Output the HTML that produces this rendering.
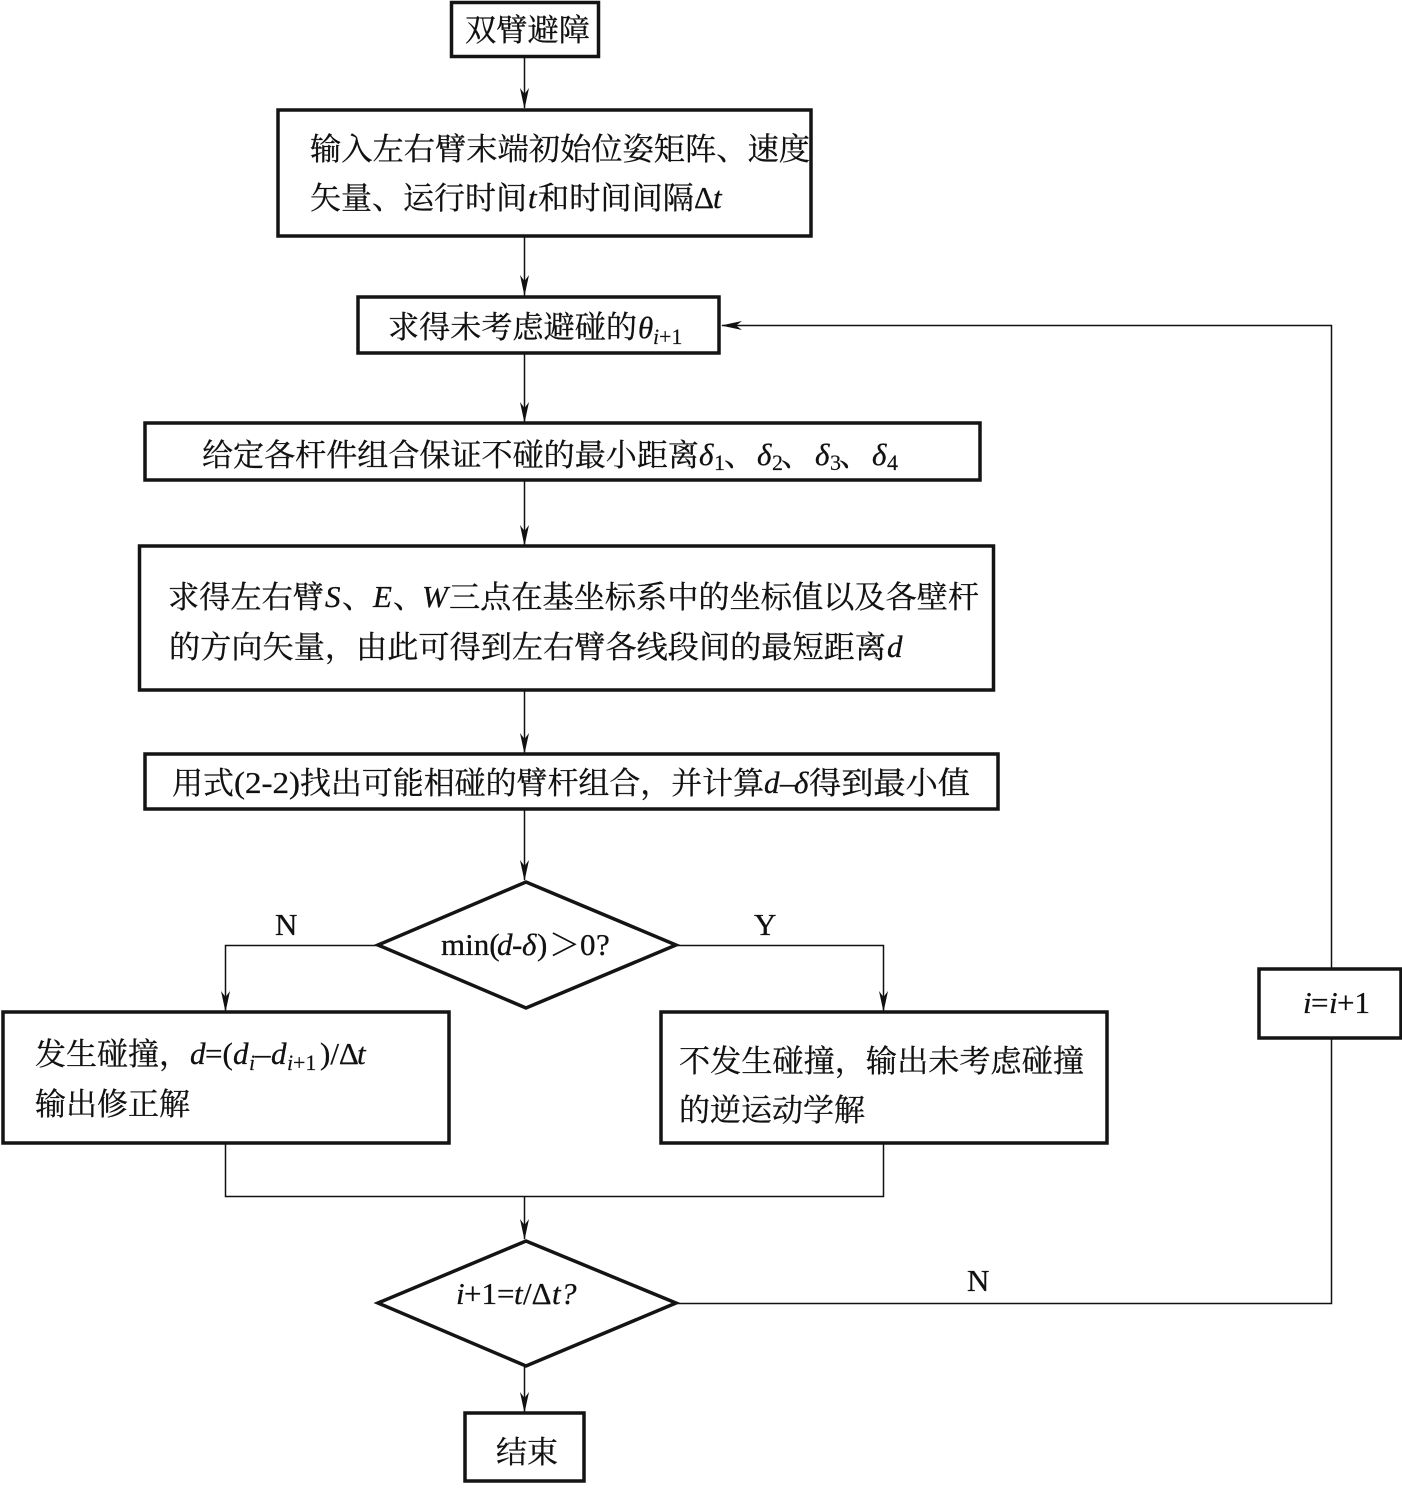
<!DOCTYPE html>
<html lang="zh">
<head>
<meta charset="utf-8">
<style>
html,body{margin:0;padding:0;background:#fff;width:1402px;height:1490px;overflow:hidden}
svg{display:block}
text{font-family:"Liberation Serif","Noto Serif CJK SC",serif;font-size:31px;fill:#111;stroke:#111;stroke-width:.3;white-space:pre}
.i{font-style:italic}
.s{font-size:22px;stroke-width:.15}
.box{fill:#fff;stroke:#141414;stroke-width:3.5}
.ln{fill:none;stroke:#111;stroke-width:1.5}
.ah{fill:#111}
</style>
</head>
<body>
<svg width="1402" height="1490" viewBox="0 0 1402 1490" xmlns="http://www.w3.org/2000/svg">
<defs>
<polygon id="d" class="ah" points="0,0 -4.5,-21 0,-15 4.5,-21"/>
</defs>

<!-- connectors -->
<path class="ln" d="M524.500 57V108M524.500 236V296M524.500 353V422M524.500 480V545M524.500 690V753M524.500 809V880"/>
<path class="ln" d="M378 945.500H225.500V1011M676 945.500H883.500V1011"/>
<path class="ln" d="M225.500 1143V1196.500H883.500V1143M524.500 1196V1239M524.500 1367V1412"/>
<path class="ln" d="M676 1303.500H1331.500V1038M1331.500 969V325.500H722"/>
<use href="#d" x="524.500" y="109"/>
<use href="#d" x="524.500" y="296"/>
<use href="#d" x="524.500" y="423"/>
<use href="#d" x="524.500" y="546"/>
<use href="#d" x="524.500" y="754"/>
<use href="#d" x="524.500" y="881"/>
<use href="#d" x="225.500" y="1012"/>
<use href="#d" x="883.500" y="1012"/>
<use href="#d" x="524.500" y="1240"/>
<use href="#d" x="524.500" y="1413"/>
<polygon class="ah" points="721,325.500 742,321 736,325.500 742,330"/>

<!-- shapes -->
<rect class="box" x="451.500" y="2.500" width="147" height="54"/>
<rect class="box" x="278" y="110" width="533" height="126"/>
<rect class="box" x="358" y="297" width="361" height="56"/>
<rect class="box" x="145" y="423" width="835" height="57"/>
<rect class="box" x="139.500" y="546" width="854" height="144"/>
<rect class="box" x="145" y="754" width="853" height="55"/>
<polygon class="box" points="378,945 526,882 676,945 526,1008"/>
<rect class="box" x="3" y="1012" width="446" height="131"/>
<rect class="box" x="661" y="1012" width="446" height="131"/>
<rect class="box" x="1259" y="969" width="142" height="69"/>
<polygon class="box" points="378,1303 526,1241 676,1303 526,1366"/>
<rect class="box" x="465" y="1413" width="119" height="68"/>

<!-- labels -->
<text x="465" y="41" textLength="125" lengthAdjust="spacingAndGlyphs">双臂避障</text>

<text x="310" y="160" textLength="500" lengthAdjust="spacingAndGlyphs">输入左右臂末端初始位姿矩阵、速度</text>
<text x="310" y="209" textLength="217" lengthAdjust="spacingAndGlyphs">矢量、运行时间</text>
<text class="i" x="528" y="208">t</text>
<text x="538" y="209" textLength="156" lengthAdjust="spacingAndGlyphs">和时间间隔</text>
<text x="694" y="208">Δ</text>
<text class="i" x="713" y="208">t</text>

<text x="388" y="338" textLength="249" lengthAdjust="spacingAndGlyphs">求得未考虑避碰的</text>
<text class="i" x="638" y="338">θ</text>
<text class="i s" x="653" y="344">i</text>
<text class="s" x="659" y="344">+1</text>

<text x="202" y="466" textLength="497" lengthAdjust="spacingAndGlyphs">给定各杆件组合保证不碰的最小距离</text>
<text class="i" x="699" y="465">δ</text>
<text class="s" x="714" y="470">1</text>
<text x="724" y="466" textLength="31" lengthAdjust="spacingAndGlyphs">、</text>
<text class="i" x="757" y="465">δ</text>
<text class="s" x="772" y="470">2</text>
<text x="781" y="466" textLength="31" lengthAdjust="spacingAndGlyphs">、</text>
<text class="i" x="815" y="465">δ</text>
<text class="s" x="830" y="470">3</text>
<text x="839" y="466" textLength="31" lengthAdjust="spacingAndGlyphs">、</text>
<text class="i" x="872" y="465">δ</text>
<text class="s" x="887" y="470">4</text>

<text x="168" y="608" textLength="156" lengthAdjust="spacingAndGlyphs">求得左右臂</text>
<text class="i" x="325" y="607">S</text>
<text x="342" y="608" textLength="31" lengthAdjust="spacingAndGlyphs">、</text>
<text class="i" x="373" y="607">E</text>
<text x="393" y="608" textLength="31" lengthAdjust="spacingAndGlyphs">、</text>
<text class="i" x="422" y="607">W</text>
<text x="449" y="608" textLength="530" lengthAdjust="spacingAndGlyphs">三点在基坐标系中的坐标值以及各壁杆</text>
<text x="169" y="658" textLength="717" lengthAdjust="spacingAndGlyphs">的方向矢量，由此可得到左右臂各线段间的最短距离</text>
<text class="i" x="887" y="657">d</text>

<text x="172" y="794" textLength="62" lengthAdjust="spacingAndGlyphs">用式</text>
<text x="234" y="793" textLength="66" lengthAdjust="spacingAndGlyphs">(2-2)</text>
<text x="300" y="794" textLength="464" lengthAdjust="spacingAndGlyphs">找出可能相碰的臂杆组合，并计算</text>
<text class="i" x="764" y="793">d</text>
<text x="780" y="793">–</text>
<text class="i" x="794" y="793">δ</text>
<text x="809" y="794" textLength="161" lengthAdjust="spacingAndGlyphs">得到最小值</text>

<text x="441" y="955">min(</text>
<text class="i" x="497" y="955">d</text>
<text x="512" y="955">-</text>
<text class="i" x="522" y="955">δ</text>
<text x="537" y="955">)</text>
<text x="549" y="956" textLength="31" lengthAdjust="spacingAndGlyphs">＞</text>
<text x="580" y="955">0</text>
<text x="596" y="955">?</text>

<text x="275" y="935">N</text>
<text x="754" y="935">Y</text>
<text x="967" y="1291">N</text>

<text x="35" y="1065" textLength="155" lengthAdjust="spacingAndGlyphs">发生碰撞，</text>
<text class="i" x="190" y="1064">d</text>
<text x="205" y="1064">=(</text>
<text class="i" x="233" y="1064">d</text>
<text class="i s" x="249" y="1070">i</text>
<text x="255" y="1064">–</text>
<text class="i" x="271" y="1064">d</text>
<text class="i s" x="287" y="1070">i</text>
<text class="s" x="293" y="1070">+1</text>
<text x="320" y="1064">)/Δ</text>
<text class="i" x="357" y="1064">t</text>
<text x="35" y="1115" textLength="155" lengthAdjust="spacingAndGlyphs">输出修正解</text>

<text x="679" y="1072" textLength="405" lengthAdjust="spacingAndGlyphs">不发生碰撞，输出未考虑碰撞</text>
<text x="679" y="1121" textLength="186" lengthAdjust="spacingAndGlyphs">的逆运动学解</text>

<text class="i" x="1303" y="1013">i</text>
<text x="1311" y="1013">=</text>
<text class="i" x="1329" y="1013">i</text>
<text x="1337" y="1013">+1</text>

<text class="i" x="456" y="1304">i</text>
<text x="464" y="1304">+1=</text>
<text class="i" x="514" y="1304">t</text>
<text x="523" y="1304">/Δ</text>
<text class="i" x="552" y="1304">t</text>
<text class="i" x="561" y="1304">?</text>

<text x="496" y="1463" textLength="62" lengthAdjust="spacingAndGlyphs">结束</text>
</svg>
</body>
</html>
